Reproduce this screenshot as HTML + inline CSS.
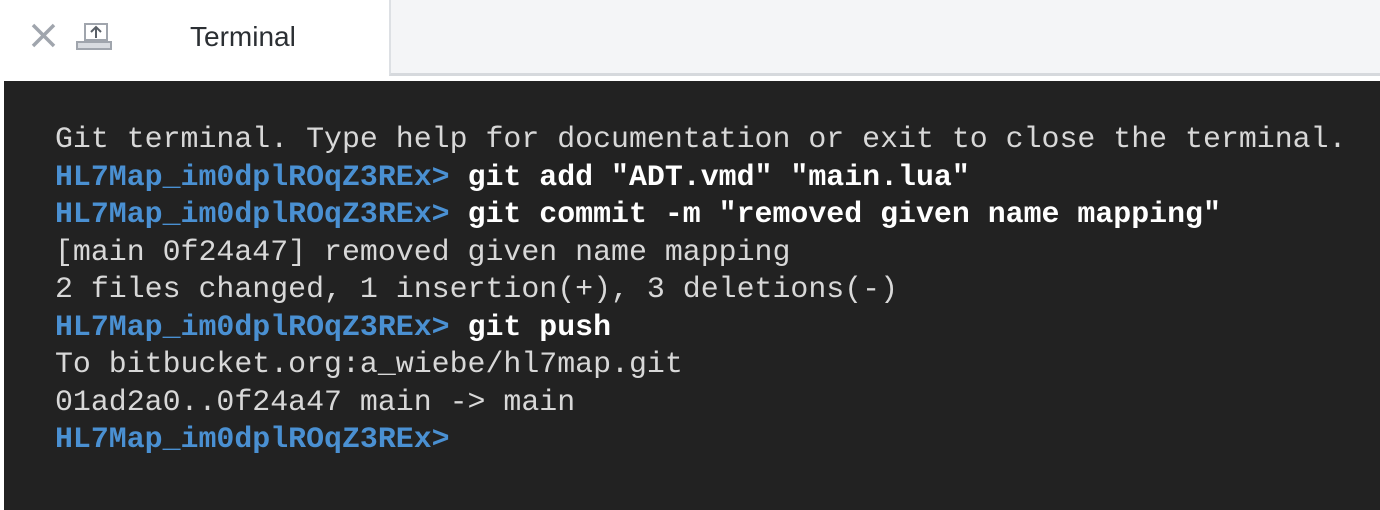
<!DOCTYPE html>
<html><head><meta charset="utf-8"><style>
html,body{margin:0;padding:0;width:1380px;height:510px;overflow:hidden;background:#fff;font-family:"Liberation Sans",sans-serif}
.tab{position:absolute;left:0;top:0;width:389px;height:81px;background:#fff}
.rest{position:absolute;left:389px;top:0;width:991px;height:73px;background:#f4f5f7;border-left:2px solid #dde0e4;border-bottom:3px solid #d6d9dd}
.title{position:absolute;left:190px;top:21px;font-size:28px;color:#2b2f33}
.term{position:absolute;left:4px;top:81px;width:1376px;height:429px;background:#222222}
pre{position:absolute;left:55px;top:121px;margin:0;font-family:"Liberation Mono",monospace;font-size:29.9px;line-height:37.5px;color:#d8d8d8}
.p{color:#4a90d2;font-weight:bold}.c{color:#fff;font-weight:bold}
</style></head><body>
<div class="tab"></div><div class="rest"></div>
<svg style="position:absolute;left:30px;top:22px" width="90" height="32">
<path d="M3 3 L24 24 M24 3 L3 24" stroke="#a0a5ad" stroke-width="3.5"/>
<rect x="55" y="2" width="22" height="16" fill="none" stroke="#a0a5ad" stroke-width="2"/>
<path d="M66 16 V6 M61 10 L66 5 L71 10" fill="none" stroke="#5a6068" stroke-width="2"/>
<rect x="47" y="20" width="34" height="7" fill="#d8dbe0" stroke="#a0a5ad" stroke-width="2"/>
</svg>
<div class="title">Terminal</div>
<div class="term"></div>
<pre>Git terminal. Type help for documentation or exit to close the terminal.
<span class="p">HL7Map_im0dplROqZ3REx&gt;</span> <span class="c">git add "ADT.vmd" "main.lua"</span>
<span class="p">HL7Map_im0dplROqZ3REx&gt;</span> <span class="c">git commit -m "removed given name mapping"</span>
[main 0f24a47] removed given name mapping
2 files changed, 1 insertion(+), 3 deletions(-)
<span class="p">HL7Map_im0dplROqZ3REx&gt;</span> <span class="c">git push</span>
To bitbucket.org:a_wiebe/hl7map.git
01ad2a0..0f24a47 main -&gt; main
<span class="p">HL7Map_im0dplROqZ3REx&gt;</span></pre>
</body></html>
